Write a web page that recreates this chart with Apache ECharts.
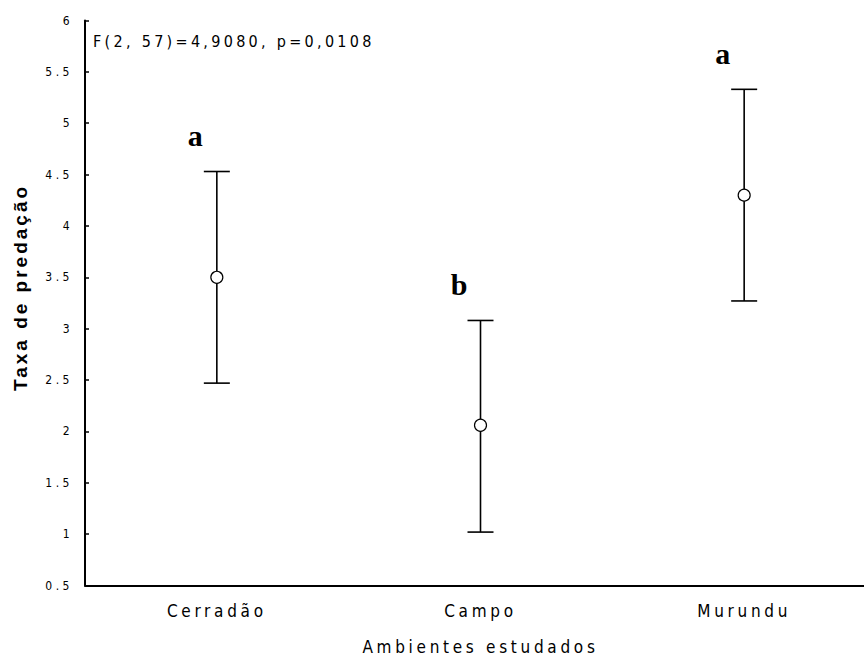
<!DOCTYPE html>
<html><head><meta charset="utf-8">
<script src="https://cdn.jsdelivr.net/npm/echarts@6/dist/echarts.min.js"></script>
<style>
html,body{margin:0;padding:0;background:#fff;overflow:hidden;width:864px;height:657px;}
#main{width:876px;height:657px;}
#main text[style*="12px"]{letter-spacing:3.5px;}
#main text[style*="16px"]{letter-spacing:3.3px;}
#main text[style*="17px"]{letter-spacing:3.7px;}
#main text[style*="19px"]{letter-spacing:3px;}
</style></head><body><div id="main"></div>
<script>
// ---- data ----
const categories = ['Cerradão', 'Campo', 'Murundu'];
const means = [3.50, 2.06, 4.30];
const upper = [4.53, 3.08, 5.33];
const lower = [2.47, 1.02, 3.27];
const groupLetters = ['a', 'b', 'a'];
const yMin = 0.5, yMax = 6, yStep = 0.5;
const annotationText = 'F(2, 57)=4,9080, p=0,0108';
const xTitle = 'Ambientes estudados';
const yTitle = 'Taxa de predação';

const narrow = "'Liberation Sans Narrow','DejaVu Sans Condensed','Arial Narrow',sans-serif";

const chart = echarts.init(document.getElementById('main'), null, {renderer: 'svg'});
chart.setOption({
  animation: false,
  backgroundColor: '#fff',
  grid: {left: 85, top: 20.5, height: 565, right: 0, outerBoundsMode: 'none', containLabel: false},
  xAxis: {
    type: 'category',
    data: categories,
    boundaryGap: true,
    axisLine: {lineStyle: {color: '#000', width: 2}},
    axisTick: {inside: true, length: 4, alignWithLabel: true, lineStyle: {color: '#000', width: 1.5}},
    axisLabel: {color: '#000', fontFamily: narrow, fontSize: 17, margin: 17},
    splitLine: {show: false},
    name: xTitle,
    nameLocation: 'middle',
    nameGap: 53,
    nameTextStyle: {color: '#000', fontFamily: narrow, fontSize: 17}
  },
  yAxis: {
    type: 'value',
    min: yMin, max: yMax, interval: yStep,
    axisLine: {show: true, lineStyle: {color: '#000', width: 2}},
    axisTick: {show: true, inside: true, length: 4, lineStyle: {color: '#000', width: 1.5}},
    axisLabel: {color: '#000', fontFamily: narrow, fontSize: 12, margin: 12},
    splitLine: {show: false}
  },
  graphic: [
    {type: 'text', x: 20.5, y: 287.5, rotation: Math.PI / 2,
     style: {text: yTitle, fill: '#000', font: "bold 19px 'Liberation Sans', Arial, sans-serif", align: 'center', verticalAlign: 'middle'}},
    {type: 'text', x: 93, y: 41,
     style: {text: annotationText, fill: '#000', font: "16px " + narrow, align: 'left', verticalAlign: 'middle'}}
  ],
  series: [
    {
      type: 'custom',
      data: categories.map((c, i) => [i, lower[i], upper[i]]),
      renderItem: function (params, api) {
        const hi = api.coord([api.value(0), api.value(2)]);
        const lo = api.coord([api.value(0), api.value(1)]);
        const cap = 13;
        const ls = {stroke: '#000', lineWidth: 1.6};
        return {
          type: 'group',
          children: [
            {type: 'line', shape: {x1: hi[0], y1: hi[1], x2: lo[0], y2: lo[1]}, style: ls},
            {type: 'line', shape: {x1: hi[0] - cap, y1: hi[1], x2: hi[0] + cap, y2: hi[1]}, style: ls},
            {type: 'line', shape: {x1: lo[0] - cap, y1: lo[1], x2: lo[0] + cap, y2: lo[1]}, style: ls},
            {type: 'text', x: hi[0] - 21.5, y: hi[1] - 36,
             style: {text: groupLetters[params.dataIndex], fill: '#000', font: "bold 30px 'Liberation Serif','DejaVu Serif',serif", align: 'center', verticalAlign: 'middle'}}
          ]
        };
      },
      z: 2
    },
    {
      type: 'scatter',
      data: means,
      symbol: 'circle',
      symbolSize: 12,
      itemStyle: {color: '#fff', borderColor: '#000', borderWidth: 1.2, opacity: 1},
      z: 3
    }
  ]
});
</script></body></html>
